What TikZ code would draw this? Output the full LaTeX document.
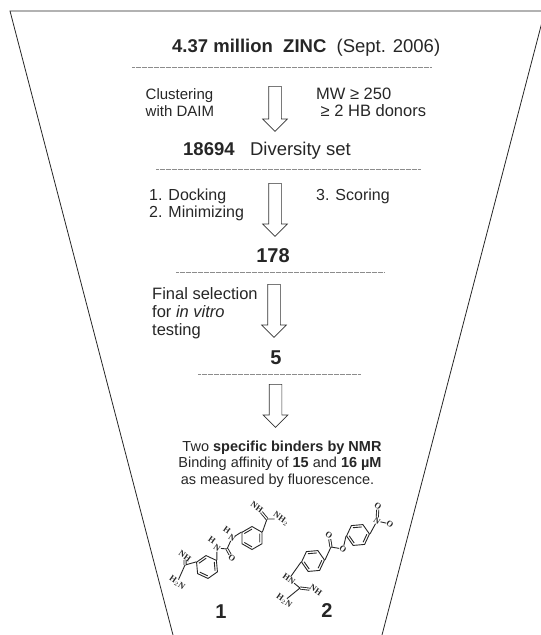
\documentclass[tikz,border=0pt]{standalone}
\usepackage{xcolor}
\usepackage{fontspec}
\setmainfont{Liberation Sans}
\newfontfamily\atomfont{Liberation Serif}
\usetikzlibrary{positioning, calc, shapes.arrows, shapes.geometric}

\begin{document}
\begin{tikzpicture}[
    x=1pt, y=-1pt,
    inktext/.style={
        text=black!85,
        inner sep=0pt,
        anchor=base west
    },
    label/.style={
        inktext,
        font=\fontsize{16}{18}\selectfont,
        align=left
    },
    finding/.style={
        inktext,
        anchor=base,
        font=\fontsize{14.5}{16}\selectfont
    },
    count/.style={
        inktext,
        anchor=base,
        font=\fontsize{20}{22}\selectfont\bfseries
    },
    blockarrow/.style={
        single arrow,
        draw=black!80,
        fill=white,
        line width=0.7pt,
        shape border rotate=270,
        minimum width=24pt,
        single arrow head extend=6pt,
        single arrow head indent=0pt,
        inner sep=0pt,
        anchor=north
    },
    sieve/.style={
        line width=0.7pt,
        black!45,
        dash pattern=on 0.6pt off 0.6pt
    },
    funnel/.style={
        line width=0.8pt,
        black!85
    },
    ring/.style={
        regular polygon,
        regular polygon sides=6,
        draw=black!85,
        line width=0.9pt,
        minimum size=23pt,
        inner sep=0pt
    },
    bond/.style={
        line width=0.9pt,
        black!85
    },
    atom/.style={
        font=\atomfont\fontsize{8.5}{9}\selectfont\bfseries,
        text=black!85,
        fill=white,
        inner sep=0.1pt,
        rotate=-35
    }
]
\useasboundingbox (0,0) rectangle (541,635);

% funnel outline
\coordinate (topleft) at (10,11);
\coordinate (topright) at (541,11);
\coordinate (bottomleft) at (173,635);
\coordinate (edgeright) at (541.5,24);
\coordinate (bottomright) at (382,635);
\draw[funnel] (topright) -- (topleft) -- (bottomleft);
\draw[funnel] (edgeright) -- (bottomright);

% screening steps
\node[inktext, font=\fontsize{18.5}{20}\selectfont] (zinc) at (172,52)
    {\textbf{4.37 million\ \ ZINC}\ \ (Sept. 2006)};
\node[label, font=\fontsize{15}{17}\selectfont] (clustering) at (145.5,99) {Clustering};
\node[label, font=\fontsize{15}{17}\selectfont] (daim) at (145.5,116.5) {with DAIM};
\node[label, font=\fontsize{16.5}{18}\selectfont] (weight) at (316,99) {MW ≥ 250};
\node[label, font=\fontsize{16.5}{18}\selectfont] (donors) at (320.5,116.5) {≥ 2 HB donors};
\node[inktext, font=\fontsize{18.5}{20}\selectfont] (diversity) at (183,155)
    {\textbf{18694}\ \ \ Diversity set};
\node[label] (docking) at (149,200) {1. Docking};
\node[label] (minimizing) at (149,217) {2. Minimizing};
\node[label] (scoring) at (316,200) {3. Scoring};
\node[count] (hits) at (273,262) {178};
\node[label, font=\fontsize{16.5}{18}\selectfont] (selection) at (152,299) {Final selection};
\node[label, font=\fontsize{16.5}{18}\selectfont] (vitro) at (152,317) {for \textit{in vitro}};
\node[label, font=\fontsize{16.5}{18}\selectfont] (testing) at (152,335) {testing};
\node[count] (five) at (276,364) {5};

\node[finding] (binders) at (282,451) {Two \textbf{specific binders by NMR}};
\node[finding] (affinity) at (280,467) {Binding affinity of \textbf{15} and \textbf{16 µM}};
\node[finding] (fluorescence) at (277.5,484) {as measured by fluorescence.};

% rules between steps
\foreach \name/\xa/\xb/\yy in {rulea/132/431/67, ruleb/156/421/169, rulec/176/384/272, ruled/198/361/374} {
    \coordinate (\name l) at (\xa,\yy);
    \coordinate (\name r) at (\xb,\yy);
    \draw[sieve] (\name l) -- (\name r);
}

% block arrows
\node[blockarrow, minimum height=45pt] (arrowa) at (275,86) {\rule{12pt}{0pt}};
\node[blockarrow, minimum height=53pt] (arrowb) at (275,183) {\rule{12pt}{0pt}};
\node[blockarrow, minimum height=53pt] (arrowc) at (274,284) {\rule{12pt}{0pt}};
\node[blockarrow, minimum height=43pt] (arrowd) at (275.5,384) {\rule{12pt}{0pt}};

% compound 1
\node[ring, rotate=35] (ringa) at (207,567) {};
\node[ring, rotate=30] (ringb) at (252,538) {};
\coordinate (amidinea) at (185,565);
\coordinate (urea) at (227,549);
\coordinate (amidineb) at (267,519);
\node[atom] (nha) at (185,556) {NH};
\node[atom] (nhb) at (177,583) {H$_2$N};
\node[atom] (ureaa) at (217,548) {N};
\node[atom] (hura) at (212,540) {H};
\node[atom] (ureao) at (232,558) {O};
\node[atom] (ureab) at (232,538) {N};
\node[atom] (hurb) at (227,530) {H};
\node[atom] (nhc) at (257,507) {NH};
\node[atom] (nhd) at (281,519) {NH$_2$};
\draw[bond] (ringa.corner 2) -- (amidinea);
\draw[bond] (amidinea) -- (nhb);
\draw[bond, double, double distance=1.2pt] (amidinea) -- (nha);
\draw[bond] (ringa.corner 6) -- (ureaa);
\draw[bond] (ureaa) -- (urea);
\draw[bond, double, double distance=1.2pt] (urea) -- (ureao);
\draw[bond] (urea) -- (ureab);
\draw[bond] (ureab) -- (ringb.corner 2);
\draw[bond] (ringb.corner 6) -- (amidineb);
\draw[bond, double, double distance=1.2pt] (amidineb) -- (nhc);
\draw[bond] (amidineb) -- (nhd);
\node[count] (one) at (221,618.5) {1};

% compound 2
\node[ring, rotate=5] (ringc) at (313,561) {};
\node[ring, rotate=5] (ringd) at (358,535) {};
\coordinate (ester) at (331,547);
\coordinate (guanidine) at (300,588);
\node[atom] (estero) at (329,535) {O};
\node[atom] (esterl) at (343,549) {O};
\node[atom] (nitro) at (377,521) {N};
\node[atom] (nitroa) at (378,506) {O};
\node[atom] (nitrob) at (390,524) {O};
\node[atom] (hn) at (289,579) {HN};
\node[atom] (nhe) at (316,590) {NH};
\node[atom] (nhf) at (284,601) {H$_2$N};
\draw[bond] (ringc.corner 6) -- (ester);
\draw[bond, double, double distance=1.2pt] (ester) -- (estero);
\draw[bond] (ester) -- (esterl);
\draw[bond] (esterl) -- (ringd.corner 3);
\draw[bond] (ringd.corner 6) -- (nitro);
\draw[bond, double, double distance=1.2pt] (nitro) -- (nitroa);
\draw[bond] (nitro) -- (nitrob);
\draw[bond] (ringc.corner 3) -- (hn);
\draw[bond] (hn) -- (guanidine);
\draw[bond, double, double distance=1.2pt] (guanidine) -- (nhe);
\draw[bond] (guanidine) -- (nhf);
\node[count] (two) at (327,617) {2};

% ring double bonds
\foreach \name in {ringa, ringb, ringc, ringd} {
    \foreach \ca/\cb in {1/2, 3/4, 5/6} {
        \draw[bond] ($(\name.center)!0.74!(\name.corner \ca)$) -- ($(\name.center)!0.74!(\name.corner \cb)$);
    }
}
\end{tikzpicture}
\end{document}
